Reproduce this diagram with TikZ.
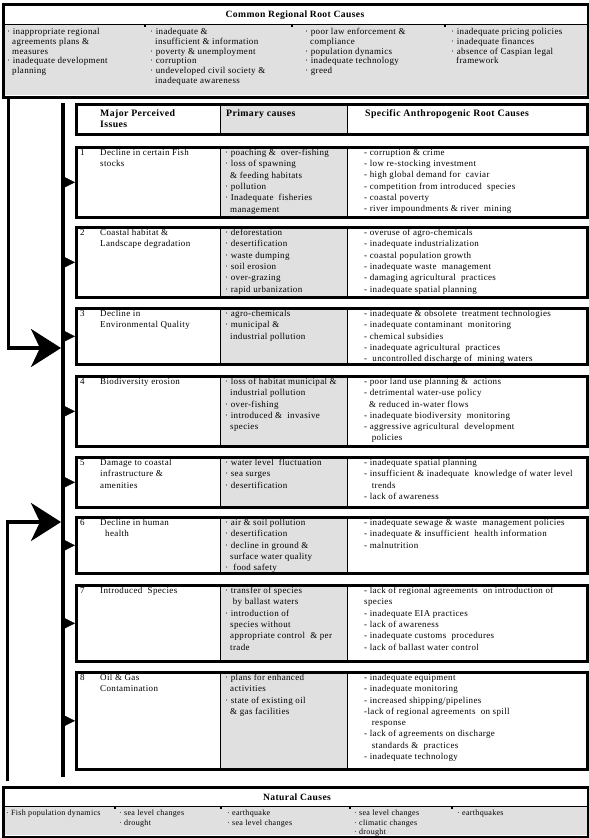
\documentclass[tikz,border=0pt]{standalone}
\usepackage{fontspec}
\setmainfont{Liberation Serif}[LetterSpace=4]
\usepackage{tikz}
\usetikzlibrary{arrows.meta,calc}
\newcommand{\cont}{\hspace*{5pt}}

\begin{document}
\begin{tikzpicture}[
        x=1pt, y=-1pt,
        font=\fontsize{9}{11.3}\selectfont,
        cellgray/.style={fill=black!12},
        frame/.style={draw, line width=2.6pt, anchor=north west, inner sep=0pt},
        rowbox/.style={frame, minimum width=511},
        colline/.style={line width=0.8pt},
        txt/.style={anchor=north west, align=left, inner sep=0pt},
        toptxt/.style={txt, font=\fontsize{9}{9.8}\selectfont},
        nattxt/.style={txt, font=\fontsize{8}{9.6}\selectfont},
        headtxt/.style={txt, font=\fontsize{9.8}{11}\selectfont\bfseries},
        title/.style={font=\fontsize{9.6}{11}\selectfont\bfseries, inner sep=0pt},
        bar/.style={line width=3.5pt},
        bigarrow/.style={line width=3.6pt, -{Stealth[length=30pt, width=38pt, inset=9pt]}},
        feed/.style={line width=0.4pt, -{Triangle[length=11pt, width=11pt]}}
    ]
        \useasboundingbox (0,0) rectangle (589,838);

        % common regional root causes
        \fill[cellgray] (2,24) rectangle (587,95);
        \draw[colline] (2,24) -- (587,24);
        \draw[line width=1.5pt] (145,24) -- (145,27) (292,24) -- (292,27) (445,24) -- (445,27);
        \node[frame, minimum width=585, minimum height=93] (common) at (2,3) {};
        \node[title] (ctitle) at (295,15) {Common Regional Root Causes};
        \node[toptxt] (c1) at (7,28) {· inappropriate regional\\\cont agreements plans \&\\\cont measures\\· inadequate development\\\cont planning};
        \node[toptxt] (c2) at (150,28) {· inadequate \&\\\cont insufficient \& information\\· poverty \& unemployment\\· corruption\\· undeveloped civil society \&\\\cont inadequate awareness};
        \node[toptxt] (c3) at (305,28) {· poor law enforcement \&\\\cont compliance\\· population dynamics\\· inadequate technology\\· greed};
        \node[toptxt] (c4) at (451,28) {· inadequate pricing policies\\· inadequate finances\\· absence of Caspian legal\\\cont framework};

        % header
        \fill[cellgray] (220,103) rectangle (347,133);
        \draw[colline] (220,103) -- (220,133) (347,103) -- (347,133);
        \node[rowbox, minimum height=30] (hdr) at (75,103) {};
        \node[headtxt] (h1) at (100,109) {Major Perceived\\Issues};
        \node[headtxt] (h2) at (226,109) {Primary causes};
        \node[headtxt] (h3) at (365,109) {Specific Anthropogenic Root Causes};

        % row 1
        \fill[cellgray] (220,146) rectangle (347,216);
        \draw[colline] (220,146) -- (220,216) (347,146) -- (347,216);
        \node[rowbox, minimum height=70] (r1) at (75,146) {};
        \node[txt] (n1) at (80,149) {1};
        \node[txt] (i1) at (100,149) {Decline in certain Fish\\stocks};
        \node[txt] (p1) at (225,149) {· poaching \& \ over-fishing\\· loss of spawning\\\cont\& feeding habitats\\· pollution\\· Inadequate \ fisheries\\\cont management};
        \node[txt] (s1) at (364,149) {- corruption \& crime\\- low re-stocking investment\\- high global demand for \ caviar\\- competition from introduced \ species\\- coastal poverty\\- river impoundments \& river \ mining};

        % row 2
        \fill[cellgray] (220,226) rectangle (347,296);
        \draw[colline] (220,226) -- (220,296) (347,226) -- (347,296);
        \node[rowbox, minimum height=70] (r2) at (75,226) {};
        \node[txt] (n2) at (80,229) {2};
        \node[txt] (i2) at (100,229) {Coastal habitat \&\\Landscape degradation};
        \node[txt] (p2) at (225,229) {· deforestation\\· desertification\\· waste dumping\\· soil erosion\\· over-grazing\\· rapid urbanization};
        \node[txt] (s2) at (364,229) {- overuse of agro-chemicals\\- inadequate industrialization\\- coastal population growth\\- inadequate waste \ management\\- damaging agricultural \ practices\\- inadequate spatial planning};

        % row 3
        \fill[cellgray] (220,307) rectangle (347,363);
        \draw[colline] (220,307) -- (220,363) (347,307) -- (347,363);
        \node[rowbox, minimum height=56] (r3) at (75,307) {};
        \node[txt] (n3) at (80,310) {3};
        \node[txt] (i3) at (100,310) {Decline in\\Environmental Quality};
        \node[txt] (p3) at (225,310) {· agro-chemicals\\· municipal \&\\\cont industrial pollution};
        \node[txt] (s3) at (364,310) {- inadequate \& obsolete \ treatment technologies\\- inadequate contaminant \ monitoring\\- chemical subsidies\\- inadequate agricultural \ practices\\- \ uncontrolled discharge of \ mining waters};

        % row 4
        \fill[cellgray] (220,375) rectangle (347,445);
        \draw[colline] (220,375) -- (220,445) (347,375) -- (347,445);
        \node[rowbox, minimum height=70] (r4) at (75,375) {};
        \node[txt] (n4) at (80,378) {4};
        \node[txt] (i4) at (100,378) {Biodiversity erosion};
        \node[txt] (p4) at (225,378) {· loss of habitat municipal \&\\\cont industrial pollution\\· over-fishing\\· introduced \& \ invasive\\\cont species};
        \node[txt] (s4) at (364,378) {- poor land use planning \& \ actions\\- detrimental water-use policy\\\cont\& reduced in-water flows\\- inadequate biodiversity \ monitoring\\- aggressive agricultural \ development\\\cont\ policies};

        % row 5
        \fill[cellgray] (220,456) rectangle (347,506);
        \draw[colline] (220,456) -- (220,506) (347,456) -- (347,506);
        \node[rowbox, minimum height=50] (r5) at (75,456) {};
        \node[txt] (n5) at (80,459) {5};
        \node[txt] (i5) at (100,459) {Damage to coastal\\infrastructure \&\\amenities};
        \node[txt] (p5) at (225,459) {· water level \ fluctuation\\· sea surges\\· desertification};
        \node[txt] (s5) at (364,459) {- inadequate spatial planning\\- insufficient \& inadequate \ knowledge of water level\\\cont\ trends\\- lack of awareness};

        % row 6
        \fill[cellgray] (220,516) rectangle (347,572);
        \draw[colline] (220,516) -- (220,572) (347,516) -- (347,572);
        \node[rowbox, minimum height=56] (r6) at (75,516) {};
        \node[txt] (n6) at (80,519) {6};
        \node[txt] (i6) at (100,519) {Decline in human\\\cont health};
        \node[txt] (p6) at (225,519) {· air \& soil pollution\\· desertification\\· decline in ground \&\\\cont surface water quality\\· \ food safety};
        \node[txt] (s6) at (364,519) {- inadequate sewage \& waste \ management policies\\- inadequate \& insufficient \ health information\\- malnutrition};

        % row 7
        \fill[cellgray] (220,584) rectangle (347,660);
        \draw[colline] (220,584) -- (220,660) (347,584) -- (347,660);
        \node[rowbox, minimum height=76] (r7) at (75,584) {};
        \node[txt] (n7) at (80,587) {7};
        \node[txt] (i7) at (100,587) {Introduced \ Species};
        \node[txt] (p7) at (225,587) {· transfer of species\\\cont\ by ballast waters\\· introduction of\\\cont species without\\\cont appropriate control \ \& per\\\cont trade};
        \node[txt] (s7) at (364,587) {- lack of regional agreements \ on introduction of\\species\\- inadequate EIA practices\\- lack of awareness\\- inadequate customs \ procedures\\- lack of ballast water control};

        % row 8
        \fill[cellgray] (220,671) rectangle (347,768);
        \draw[colline] (220,671) -- (220,768) (347,671) -- (347,768);
        \node[rowbox, minimum height=97] (r8) at (75,671) {};
        \node[txt] (n8) at (80,674) {8};
        \node[txt] (i8) at (100,674) {Oil \& Gas\\Contamination};
        \node[txt] (p8) at (225,674) {· plans for enhanced\\\cont activities\\· state of existing oil\\\cont\& gas facilities};
        \node[txt] (s8) at (364,674) {- inadequate equipment\\- inadequate monitoring\\- increased shipping/pipelines\\-lack of regional agreements \ on spill\\\cont\ response\\- lack of agreements on discharge\\\cont\ standards \& \ practices\\- inadequate technology};

        % natural causes
        \fill[cellgray] (2,806) rectangle (587,835);
        \draw[colline] (2,806) -- (587,806);
        \draw[line width=1.5pt] (115,806) -- (115,809) (221,806) -- (221,809) (350,806) -- (350,809) (452,806) -- (452,809);
        \node[frame, minimum width=585, minimum height=50] (natural) at (2,786) {};
        \node[title] (ntitle) at (297,797) {Natural Causes};
        \node[nattxt] (m1) at (6,810) {· Fish population dynamics};
        \node[nattxt] (m2) at (119,810) {· sea level changes\\· drought};
        \node[nattxt] (m3) at (227,810) {· earthquake\\· sea level changes};
        \node[nattxt] (m4) at (354,810) {· sea level changes\\· climatic changes\\· drought};
        \node[nattxt] (m5) at (457,810) {· earthquakes};

        % feedback lines
        \coordinate (bartop) at (63,103);
        \coordinate (barbot) at (63,777);
        \coordinate (in1) at (61,348);
        \coordinate (in2) at (61,522);
        \draw[bar] (bartop) -- (barbot);
        \draw[bigarrow] ([xshift=6.5pt]common.south west) |- (in1);
        \draw[bigarrow] ([xshift=5.5pt, yshift=5pt]natural.north west) |- (in2);
        \draw[feed] (r1.west -| bartop) -- (r1.west);
        \draw[feed] (r2.west -| bartop) -- (r2.west);
        \draw[feed] (r3.west -| bartop) -- (r3.west);
        \draw[feed] (r4.west -| bartop) -- (r4.west);
        \draw[feed] (r5.west -| bartop) -- (r5.west);
        \draw[feed] (r6.west -| bartop) -- (r6.west);
        \draw[feed] (r7.west -| bartop) -- (r7.west);
        \draw[feed] (r8.west -| bartop) -- (r8.west);
    \end{tikzpicture}
\end{document}
